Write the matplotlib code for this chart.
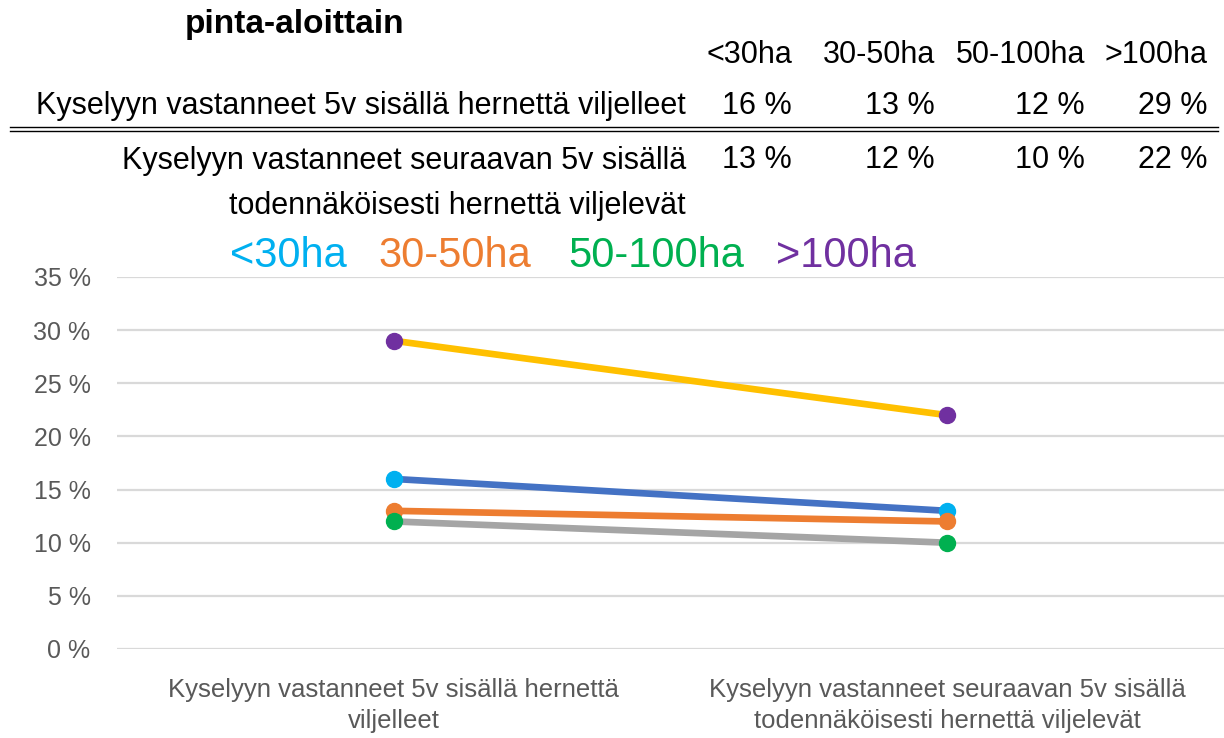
import matplotlib.pyplot as plt

plt.rcParams['font.family'] = ['Liberation Sans', 'DejaVu Sans']

categories = ['Kyselyyn vastanneet 5v sisällä hernettä\nviljelleet',
              'Kyselyyn vastanneet seuraavan 5v sisällä\ntodennäköisesti hernettä viljelevät']
groups = ['<30ha', '30-50ha', '50-100ha', '>100ha']
row1 = [16, 13, 12, 29]
row2 = [13, 12, 10, 22]
row1_label = 'Kyselyyn vastanneet 5v sisällä hernettä viljelleet'
row2_label = 'Kyselyyn vastanneet seuraavan 5v sisällä\ntodennäköisesti hernettä viljelevät'

line_colors = ['#4472C4', '#ED7D31', '#A5A5A5', '#FFC000']
marker_colors = ['#00B0F0', '#ED7D31', '#00B050', '#7030A0']
text_colors = ['#00B0F0', '#ED7D31', '#00B050', '#7030A0']

W, H = 1224, 738
fig = plt.figure(figsize=(W / 100, H / 100), dpi=100)
ax = fig.add_axes([117 / W, 1 - 649 / H, 1 - 117 / W, (649 - 277) / H])

x = [0, 1]
for i in range(4):
    ax.plot(x, [row1[i] / 100, row2[i] / 100], color=line_colors[i], lw=4.8,
            solid_capstyle='round', zorder=3 + i)
    ax.plot(x, [row1[i] / 100, row2[i] / 100], 'o', color=marker_colors[i],
            ms=11.5, zorder=3 + i)

ax.set_xlim(-0.5, 1.5)
ax.set_ylim(0, 0.35)
ax.set_yticks([i * 0.05 for i in range(8)])
ax.set_yticklabels([f'{i * 5} %' for i in range(8)])
ax.set_xticks(x)
ax.set_xticklabels(categories, linespacing=1.35)
ax.tick_params(length=0, labelcolor='#595959')
ax.tick_params(axis='y', labelsize=18, pad=19)
ax.tick_params(axis='x', labelsize=18.5, pad=21)
ax.grid(axis='y', color='#D9D9D9', lw=1.6)
ax.set_axisbelow(True)
for s in ax.spines.values():
    s.set_visible(False)

# table above the chart
fs = 22
fig.text(295 / W, 1 - 25 / H, 'pinta-aloittain', fontsize=24, fontweight='bold',
         ha='center', va='center')
col_right = [792, 935, 1085, 1208]
for c, g in zip(col_right, groups):
    fig.text(c / W, 1 - 55 / H, g, fontsize=fs, ha='right', va='center')
fig.text(686 / W, 1 - 106 / H, row1_label, fontsize=fs, ha='right', va='center')
for c, v in zip(col_right, row1):
    fig.text(c / W, 1 - 106 / H, f'{v} %', fontsize=fs, ha='right', va='center')
fig.add_artist(plt.Line2D([10 / W, 1218 / W], [1 - 127 / H] * 2, color='black', lw=1))
fig.add_artist(plt.Line2D([10 / W, 1218 / W], [1 - 131 / H] * 2, color='black', lw=1))
fig.text(686 / W, 1 - 146 / H, row2_label, fontsize=fs, ha='right', va='top',
         linespacing=1.65)
for c, v in zip(col_right, row2):
    fig.text(c / W, 1 - 160 / H, f'{v} %', fontsize=fs, ha='right', va='center')

# coloured legend text
legend_x = [230, 378, 568, 776]
for lx, g, col in zip(legend_x, groups, text_colors):
    fig.text(lx / W, 1 - 256 / H, g, fontsize=30, color=col, ha='left', va='center')

fig.savefig('out.png', dpi=100)
